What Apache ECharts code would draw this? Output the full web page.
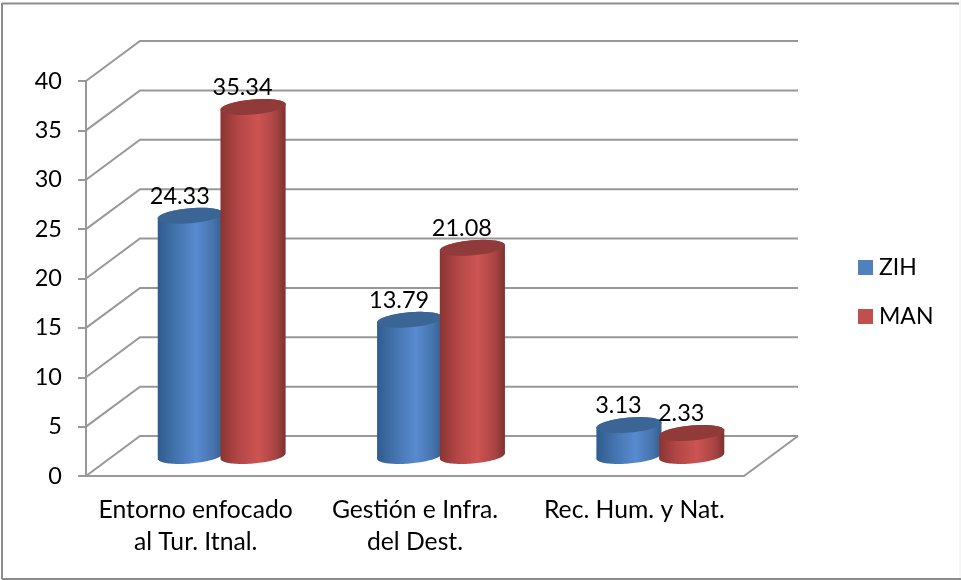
<!DOCTYPE html>
<html><head><meta charset="utf-8">
<style>html,body{margin:0;padding:0;background:#fff}#c{width:961px;height:580px}</style>
<script src="https://cdn.jsdelivr.net/npm/echarts@6/dist/echarts.min.js"></script>
</head><body><div id="c"></div>
<script>
const categories = ['Entorno enfocado\nal Tur. Itnal.', 'Gestión e Infra.\ndel Dest.', 'Rec. Hum. y Nat.'];
const zihValues = [24.33, 13.79, 3.13];
const manValues = [35.34, 21.08, 2.33];
const yTicks = [0, 5, 10, 15, 20, 25, 30, 35, 40];

const FONT = 'Lato';
const DX = 54, DY = 40, TILT = -5 * Math.PI / 180, RY = 7.5;
const GRID = '#989898';
const chart = echarts.init(document.getElementById('c'));

function ell(cx, cy, rx, ry, from, to) {
  const pts = [], n = 48;
  for (let i = 0; i <= n; i++) {
    const t = from + (to - from) * i / n;
    const x = rx * Math.cos(t), y = ry * Math.sin(t);
    pts.push([cx + x * Math.cos(TILT) - y * Math.sin(TILT), cy + x * Math.sin(TILT) + y * Math.cos(TILT)]);
  }
  return pts;
}
function grad(stops) {
  return new echarts.graphic.LinearGradient(0, 0, 1, 0, stops.map((c, i) => ({offset: c[0], color: c[1]})));
}
function cylinder(side, stops, capColor) {
  return function (params, api) {
    const base = api.coord([api.value(0), 0]);
    const top = api.coord([api.value(0), api.value(1)]);
    const band = api.size([1, 0])[0];
    const rx = band * 0.149;
    const cx = base[0] + 26 + side * rx * 0.96;
    const by = base[1] - DY / 2, ty = top[1] - DY / 2;
    const t0 = Math.atan2(-RY * Math.sin(TILT), rx * Math.cos(TILT));
    const lower = ell(cx, by, rx, RY, t0, t0 + Math.PI);
    const upper = ell(cx, ty, rx, RY, t0 + Math.PI, t0 + 2 * Math.PI);
    return {type: 'group', children: [
      {type: 'polygon', shape: {points: lower.concat(upper)}, style: {fill: grad(stops)}},
      {type: 'polygon', shape: {points: ell(cx, ty, rx, RY, 0, 2 * Math.PI)}, style: {fill: capColor}},
      {type: 'text', z2: 50, style: {x: cx - 10.5, y: ty - 19.5, text: api.value(1).toFixed(2), align: 'center', verticalAlign: 'middle',
        font: '23.5px ' + FONT, fill: '#000'}}
    ]};
  };
}
function wall(params, api) {
  const cs = params.coordSys;
  const p = api.coord([0, api.value(1)]);
  const x0 = cs.x, y = p[1];
  const children = [{type: 'polyline', shape: {points: [[x0, y], [x0 + DX, y - DY], [x0 + cs.width + DX, y - DY]]},
    style: {stroke: GRID, lineWidth: 2, fill: null}}];
  if (api.value(1) === 0) {
    children.push({type: 'line', shape: {x1: x0 + cs.width, y1: y, x2: x0 + cs.width + DX, y2: y - DY}, style: {stroke: GRID, lineWidth: 2}});
  }
  return {type: 'group', children};
}
chart.setOption({
  animation: false,
  backgroundColor: '#fff',
  textStyle: {fontFamily: FONT},
  graphic: [
    {type: 'line', silent: true, shape: {x1: 2, y1: 3.5, x2: 959, y2: 3.5}, style: {stroke: '#8c8c8c', lineWidth: 2}},
    {type: 'line', silent: true, shape: {x1: 2, y1: 3, x2: 2, y2: 579}, style: {stroke: '#8c8c8c', lineWidth: 2}},
    {type: 'line', silent: true, shape: {x1: 2, y1: 579, x2: 961, y2: 579}, style: {stroke: '#8c8c8c', lineWidth: 2}},
    {type: 'line', silent: true, shape: {x1: 960, y1: 0, x2: 960, y2: 578}, style: {stroke: '#ececec', lineWidth: 1}}
  ],
  grid: {left: 86, top: 81, right: 217, bottom: 104, containLabel: false},
  legend: {orient: 'vertical', left: 858, top: 256, padding: 0, itemWidth: 15, itemHeight: 15, itemGap: 26, icon: 'rect',
    data: ['ZIH', 'MAN'], textStyle: {fontFamily: FONT, fontSize: 23, color: '#000', padding: [0, 0, 0, 1]}},
  xAxis: {type: 'category', data: categories, axisLine: {lineStyle: {color: GRID, width: 2}}, axisTick: {length: 8, lineStyle: {color: GRID, width: 2}},
    axisLabel: {color: '#000', fontSize: 24.7, lineHeight: 32, margin: 18, fontFamily: FONT, interval: 0}, splitLine: {show: false}},
  yAxis: {type: 'value', min: 0, max: 40, interval: 5, axisLine: {show: true, lineStyle: {color: GRID, width: 2}}, axisTick: {show: true, length: 8, lineStyle: {color: GRID, width: 2}},
    axisLabel: {color: '#000', fontSize: 23.5, margin: 24, fontFamily: FONT}, splitLine: {show: false}},
  series: [
    {type: 'custom', name: 'wall', silent: true, z: 1, renderItem: wall, encode: {x: 0, y: 1}, data: yTicks.map(t => [0, t])},
    {type: 'custom', name: 'ZIH', z: 3, itemStyle: {color: '#4F81BD'}, encode: {x: 0, y: 1},
      renderItem: cylinder(-1, [[0, '#2f5c8f'], [0.28, '#4474ae'], [0.6, '#588ad0'], [0.85, '#4674ae'], [1, '#33608f']], '#3a6594'),
      data: zihValues.map((v, i) => [i, v])},
    {type: 'custom', name: 'MAN', z: 4, itemStyle: {color: '#C0504D'}, encode: {x: 0, y: 1},
      renderItem: cylinder(1, [[0, '#8a3533'], [0.28, '#b34746'], [0.58, '#cd5452'], [0.85, '#a94443'], [1, '#7d3130']], '#903b3a'),
      data: manValues.map((v, i) => [i, v])}
  ]
});
</script></body></html>
